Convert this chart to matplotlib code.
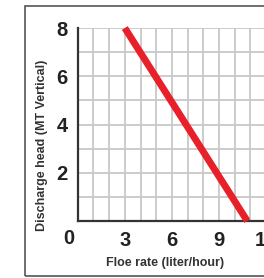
import matplotlib
matplotlib.use("Agg")
import matplotlib.pyplot as plt
from matplotlib.patches import Rectangle
import numpy as np

flow = [3.0, 10.8]
head = [8.0, 0.0]
xticks = [3, 6, 9, 12]
yticks = [2, 4, 6, 8]

W, H = 264, 278
fig = plt.figure(figsize=(W/100, H/100), dpi=100)
fig.patch.set_facecolor("white")

ax_left = 77.7 / W
ax_bottom = (H - 221) / H
ax_height = (221 - 28) / H
ax_width = (15.7 * 12) / W
ax = fig.add_axes([ax_left, ax_bottom, ax_width, ax_height])
ax.set_xlim(0, 12)
ax.set_ylim(0, 8)

# grid every 1 unit
for gx in np.arange(1, 13, 1):
    ax.axvline(gx, color="#c8c8c8", linewidth=1.3, zorder=0)
for gy in np.arange(1, 9, 1):
    ax.axhline(gy, color="#c8c8c8", linewidth=1.3, zorder=0)

ax.set_xticks(xticks)
ax.set_yticks(yticks)
ax.tick_params(which="both", length=0)
ax.tick_params(axis="x", pad=7)
ax.tick_params(axis="y", pad=7)
for lab in ax.get_xticklabels() + ax.get_yticklabels():
    lab.set_fontfamily("Liberation Sans")
    lab.set_fontweight("bold")
    lab.set_fontsize(14.5)
    lab.set_color("#222222")

for s in ["top", "right"]:
    ax.spines[s].set_visible(False)
for s in ["left", "bottom"]:
    ax.spines[s].set_linewidth(1.6)
    ax.spines[s].set_color("#333333")

ax.plot(flow, head, color="#e8202a", linewidth=5, solid_capstyle="butt", clip_on=False, zorder=5)

fig.text(69 / W, 1 - 238 / H, "0", ha="center", va="center", fontsize=14.5,
         fontweight="bold", family="Liberation Sans", color="#222222")

lab_family = ["Liberation Sans Narrow", "Liberation Sans", "DejaVu Sans"]
fig.text(42 / W, 1 - 145 / H, "Discharge head (MT Vertical)", rotation=90, ha="center", va="center",
         fontsize=9, fontweight="bold", family=lab_family, color="#333333")
fig.text(165 / W, 1 - 263 / H, "Floe rate (liter/hour)", ha="center", va="center",
         fontsize=9, fontweight="bold", family=lab_family, color="#333333")

frame = Rectangle((24.5 / W, 1 - 276 / H), 1.0, (276 - 6) / H, transform=fig.transFigure,
                  fill=False, edgecolor="#555555", linewidth=1.2)
fig.patches.append(frame)

fig.savefig("out.png", dpi=100, facecolor="white")
